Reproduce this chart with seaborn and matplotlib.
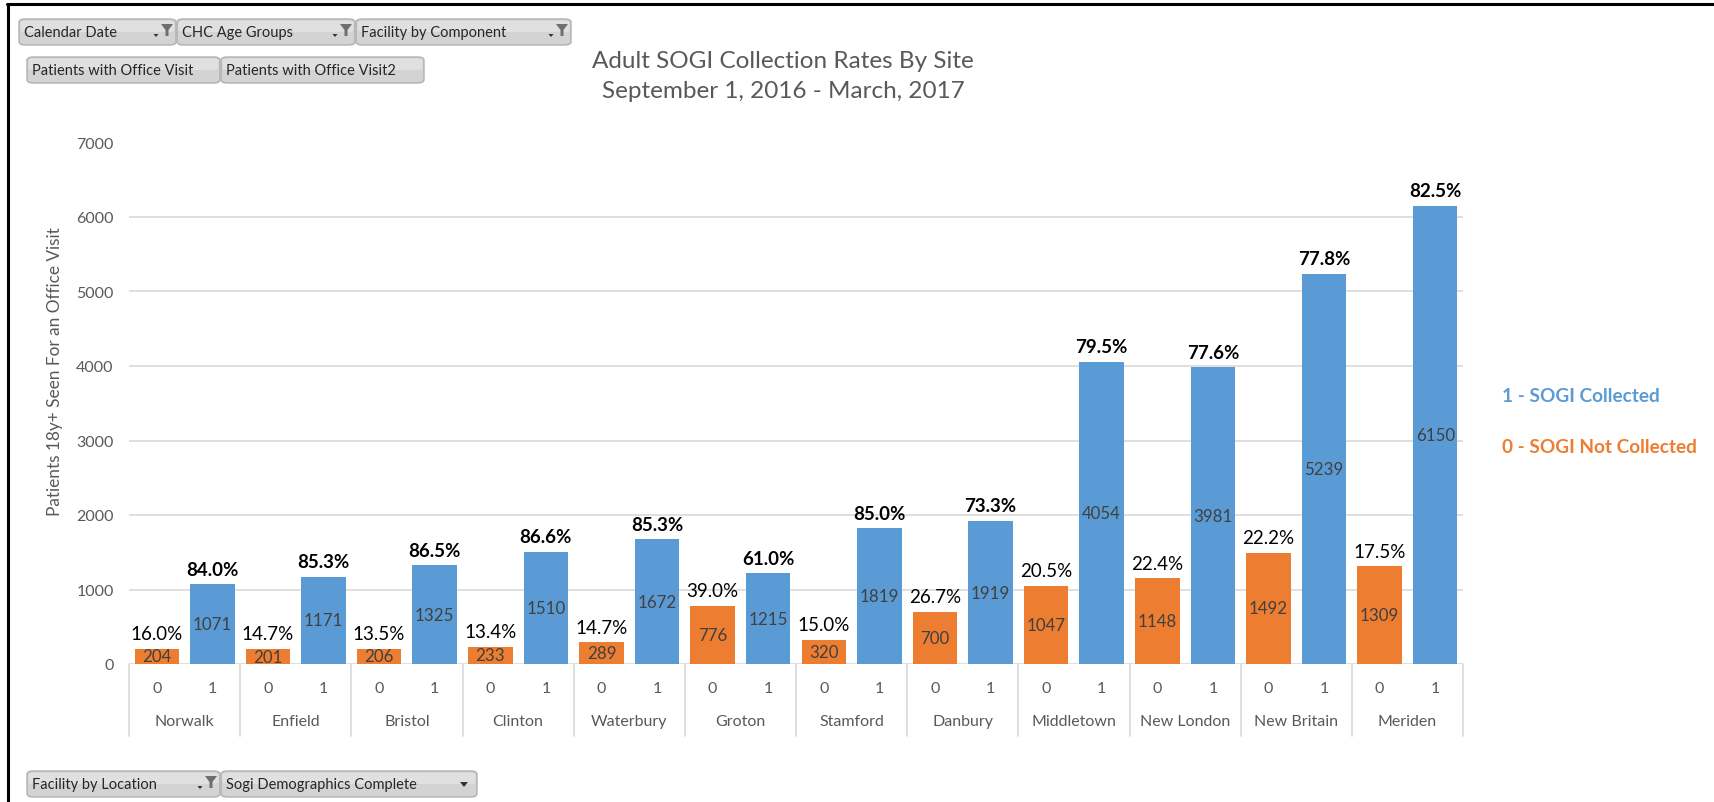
import matplotlib
matplotlib.use("Agg")
import matplotlib.pyplot as plt
import matplotlib.transforms as mtransforms
from matplotlib.patches import FancyBboxPatch, Polygon
from matplotlib.lines import Line2D
import seaborn as sns
import pandas as pd

# ---------------- data ----------------
sites = ["Norwalk", "Enfield", "Bristol", "Clinton", "Waterbury", "Groton",
         "Stamford", "Danbury", "Middletown", "New London", "New Britain", "Meriden"]
not_collected = [204, 201, 206, 233, 289, 776, 320, 700, 1047, 1148, 1492, 1309]
collected = [1071, 1171, 1325, 1510, 1672, 1215, 1819, 1919, 4054, 3981, 5239, 6150]
pct_not_collected = ["16.0%", "14.7%", "13.5%", "13.4%", "14.7%", "39.0%",
                     "15.0%", "26.7%", "20.5%", "22.4%", "22.2%", "17.5%"]
pct_collected = ["84.0%", "85.3%", "86.5%", "86.6%", "85.3%", "61.0%",
                 "85.0%", "73.3%", "79.5%", "77.6%", "77.8%", "82.5%"]
status_labels = ["0", "1"]
yticks = [0, 1000, 2000, 3000, 4000, 5000, 6000, 7000]
title_lines = ["Adult SOGI Collection Rates By Site", "September 1, 2016 - March, 2017"]
ylabel = "Patients 18y+ Seen For an Office Visit"
legend_labels = ["1 - SOGI Collected", "0 - SOGI Not Collected"]
filters_top = ["Calendar Date", "CHC Age Groups", "Facility by Component"]
filters_row2 = ["Patients with Office Visit", "Patients with Office Visit2"]
filters_bottom = ["Facility by Location", "Sogi Demographics Complete"]

BLUE = "#5B9BD5"
ORANGE = "#ED7D31"
GRID = "#D9D9D9"
GRAY = "#595959"

rows = []
for s, n0, n1, p0, p1 in zip(sites, not_collected, collected, pct_not_collected, pct_collected):
    rows.append({"key": f"{s}|0", "site": s, "status": "0", "count": n0, "pct": p0})
    rows.append({"key": f"{s}|1", "site": s, "status": "1", "count": n1, "pct": p1})
df = pd.DataFrame(rows)
order = list(df["key"])

# ---------------- figure ----------------
W, H = 1714, 803
sns.set_style("white")
plt.rcParams["font.family"] = ["Lato", "DejaVu Sans"]
fig = plt.figure(figsize=(W / 100, H / 100), dpi=100)
fig.patch.set_facecolor("white")

def fx(px):
    return px / W

def fy(py):
    return (H - py) / H

ax_left, ax_right, ax_top, ax_bot = 129, 1463, 143.5, 665
ax = fig.add_axes([fx(ax_left), fy(ax_bot), fx(ax_right - ax_left), (ax_bot - ax_top) / H])

sns.barplot(data=df, x="key", y="count", hue="status", order=order,
            hue_order=status_labels, palette={"0": ORANGE, "1": BLUE},
            dodge=False, width=0.8, saturation=1, legend=False, ax=ax,
            edgecolor="none", zorder=3)

ax.set_xlim(-0.5, len(order) - 0.5)
ax.set_ylim(0, 7000)
ax.set_yticks(yticks)
ax.set_yticklabels([str(t) for t in yticks])
ax.yaxis.grid(True, color=GRID, linewidth=1.2, zorder=0)
ax.xaxis.grid(False)
for sp in ax.spines.values():
    sp.set_visible(False)
ax.tick_params(axis="y", length=0, pad=11, labelsize=11.5, labelcolor=GRAY)
ax.set_xticks(range(len(order)))
ax.set_xticklabels(list(df["status"]))
ax.tick_params(axis="x", length=0, pad=12, labelsize=11.5, labelcolor=GRAY)
ax.set_xlabel("")
ax.set_ylabel("")

# bar labels
for i, row in df.iterrows():
    ax.text(i, row["count"] / 2, str(row["count"]), ha="center", va="center",
            fontsize=12.2, color="#404040", zorder=5)
    ax.text(i, row["count"] + 90, row["pct"], ha="center", va="bottom",
            fontsize=13.5, color="black",
            fontweight="bold" if row["status"] == "1" else "normal", zorder=5)

# multi-level category axis: separators and site names
blend = mtransforms.blended_transform_factory(ax.transData, ax.transAxes)
sep_depth = (737 - ax_bot) / (ax_bot - ax_top)
for k in range(len(sites) + 1):
    xpos = 2 * k - 0.5
    ax.add_line(Line2D([xpos, xpos], [0, -sep_depth], transform=blend,
                       color=GRID, linewidth=1.2, clip_on=False))
name_y = -(722 - ax_bot) / (ax_bot - ax_top)
for k, s in enumerate(sites):
    ax.text(2 * k + 0.5, name_y, s, transform=blend, ha="center", va="center",
            fontsize=11.5, color=GRAY)

# title
fig.text(fx(783), fy(61), title_lines[0], ha="center", va="center", fontsize=17.5, color=GRAY)
fig.text(fx(783), fy(91), title_lines[1], ha="center", va="center", fontsize=17.5, color=GRAY)

# y label
fig.text(fx(55), fy(372), ylabel, rotation=90, ha="center", va="center",
         fontsize=12.4, color=GRAY)

# legend text
fig.text(fx(1502), fy(397), legend_labels[0], ha="left", va="center",
         fontsize=13.7, fontweight="bold", color=BLUE)
fig.text(fx(1502), fy(448), legend_labels[1], ha="left", va="center",
         fontsize=13.7, fontweight="bold", color=ORANGE)

# filter buttons
def button(x0, x1, y0, y1, label, glyph="funnel"):
    p = FancyBboxPatch((fx(x0), fy(y1)), fx(x1 - x0), (y1 - y0) / H,
                       boxstyle="round,pad=0,rounding_size=0.004",
                       transform=fig.transFigure, facecolor="#D3D3D3",
                       edgecolor="#B0B0B0", linewidth=1)
    fig.patches.append(p)
    p2 = FancyBboxPatch((fx(x0 + 1.5), fy((y0 + y1) / 2)), fx(x1 - x0 - 3), ((y1 - y0) / 2 - 1.5) / H,
                        boxstyle="round,pad=0,rounding_size=0.003",
                        transform=fig.transFigure, facecolor="#E0E0E0",
                        edgecolor="none")
    fig.patches.append(p2)
    yc = (y0 + y1) / 2
    fig.text(fx(x0 + 5), fy(yc), label, ha="left", va="center",
             fontsize=10.5, color="#262626")
    if glyph == "funnel":
        fxr = x1 - 9
        pts = [(fxr - 6, yc - 8), (fxr + 6, yc - 8), (fxr + 1.5, yc - 2),
               (fxr + 1.5, yc + 4), (fxr - 1.5, yc + 4), (fxr - 1.5, yc - 2)]
        fig.patches.append(Polygon([(fx(a), fy(b)) for a, b in pts], closed=True,
                                   transform=fig.transFigure, facecolor="#6E6E6E",
                                   edgecolor="none"))
        ax_ = fxr - 11
        pts2 = [(ax_ - 2.5, yc + 2), (ax_ + 2.5, yc + 2), (ax_, yc + 5)]
        fig.patches.append(Polygon([(fx(a), fy(b)) for a, b in pts2], closed=True,
                                   transform=fig.transFigure, facecolor="#333333",
                                   edgecolor="none"))
    elif glyph == "arrow":
        axr = x1 - 13
        pts2 = [(axr - 4, yc - 2), (axr + 4, yc - 2), (axr, yc + 3)]
        fig.patches.append(Polygon([(fx(a), fy(b)) for a, b in pts2], closed=True,
                                   transform=fig.transFigure, facecolor="#333333",
                                   edgecolor="none"))

button(19, 176, 20, 46, filters_top[0])
button(177, 355, 20, 46, filters_top[1])
button(356, 571, 20, 46, filters_top[2])
button(27, 220, 58, 84, filters_row2[0], glyph="none")
button(221, 424, 58, 84, filters_row2[1], glyph="none")
button(27, 220, 772, 798, filters_bottom[0])
button(221, 477, 772, 798, filters_bottom[1], glyph="arrow")

# outer frame (top and left)
fig.add_artist(Line2D([fx(7), 1], [fy(5), fy(5)], transform=fig.transFigure,
                      color="black", linewidth=2.2))
fig.add_artist(Line2D([fx(8), fx(8)], [fy(5), 0], transform=fig.transFigure,
                      color="black", linewidth=2.2))

fig.savefig("out.png", dpi=100, facecolor="white")
